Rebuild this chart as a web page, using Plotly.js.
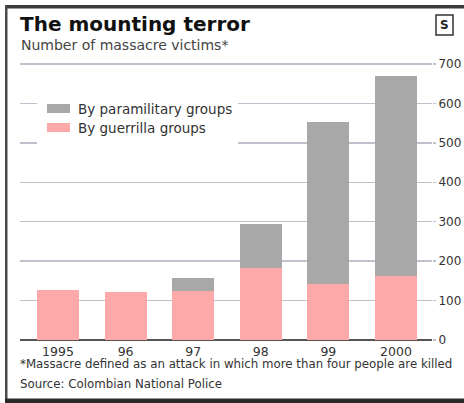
<!DOCTYPE html>
<html>
<head>
<meta charset="utf-8">
<script src="https://cdn.plot.ly/plotly-3.0.1.min.js"></script>
<style>
  html, body { margin: 0; padding: 0; background: #fff; }
  #chart { width: 464px; height: 403px; }
</style>
</head>
<body>
<div id="chart"></div>
<script>
// ---- Data ----
const years = ["1995", "96", "97", "98", "99", "2000"];
const guerrilla = [127, 121, 124, 182, 142, 162];
const paramilitary = [0, 0, 32, 112, 411, 508];
const yTicks = [0, 100, 200, 300, 400, 500, 600, 700];
const seriesNames = ["By paramilitary groups", "By guerrilla groups"];

// ---- Layout helpers (pixel -> paper) ----
const W = 464, H = 403;
const L = 20, R = 432, T = 59, B = 340;
const px = x => (x - L) / (R - L);
const py = y => (B - y) / (B - T);

const FONT = "DejaVu Sans, Verdana, sans-serif";
const PINK = "#fda9aa";
const GREY = "#a8a8a8";

const traces = [
  { type: "bar", x: years, y: guerrilla, name: seriesNames[1],
    marker: { color: PINK, line: { width: 0 } }, hoverinfo: "skip" },
  { type: "bar", x: years, y: paramilitary, name: seriesNames[0],
    marker: { color: GREY, line: { width: 0 } }, hoverinfo: "skip" }
];

const shapes = [
  // frame
  { type: "rect", xref: "paper", yref: "paper", x0: px(5), x1: px(470), y0: py(5), y1: py(8.5),
    fillcolor: "#3a3a3a", line: { width: 0 } },
  { type: "rect", xref: "paper", yref: "paper", x0: px(5), x1: px(7.5), y0: py(5), y1: py(403),
    fillcolor: "#4a4a4a", line: { width: 0 } },
  { type: "rect", xref: "paper", yref: "paper", x0: px(5), x1: px(470), y0: py(398.5), y1: py(403),
    fillcolor: "#2a2a2a", line: { width: 0 } },
  // S box
  { type: "rect", xref: "paper", yref: "paper", x0: px(436), x1: px(453), y0: py(15), y1: py(35),
    fillcolor: "#fff", line: { color: "#333", width: 1.5 } },
  // legend background & swatches
  { type: "rect", xref: "paper", yref: "paper", x0: px(37), x1: px(238), y0: py(94), y1: py(146),
    fillcolor: "#fff", line: { width: 0 }, layer: "above" },
  { type: "rect", xref: "paper", yref: "paper", x0: px(47), x1: px(70), y0: py(104), y1: py(113),
    fillcolor: GREY, line: { width: 0 }, layer: "above" },
  { type: "rect", xref: "paper", yref: "paper", x0: px(47), x1: px(70), y0: py(123), y1: py(132),
    fillcolor: PINK, line: { width: 0 }, layer: "above" }
];

const ann = (text, x, y, size, opts = {}) => Object.assign({
  text, xref: "paper", yref: "paper", x: px(x), y: py(y), xanchor: "left", yanchor: "middle",
  showarrow: false, font: { family: FONT, size, color: "#333" }
}, opts);

const annotations = [
  ann("<b>The mounting terror</b>", 18, 24, 20, { font: { family: FONT, size: 20, color: "#111" } }),
  ann("Number of massacre victims*", 19, 45, 14, { font: { family: FONT, size: 14, color: "#444" } }),
  ann(seriesNames[0], 76, 108.5, 13.5),
  ann(seriesNames[1], 76, 128, 13.5),
  ann("*Massacre defined as an attack in which more than four people are killed", 18, 364, 11.8),
  ann("Source: Colombian National Police", 18, 384, 11.8),
  ann("<b>S</b>", 444.5, 25, 12, { xanchor: "center", font: { family: FONT, size: 12, color: "#222" } })
];

const layout = {
  width: W, height: H,
  margin: { l: L, r: W - R, t: T, b: H - B, pad: 0 },
  paper_bgcolor: "#fff", plot_bgcolor: "#fff",
  barmode: "stack", bargap: 0.38,
  showlegend: false,
  xaxis: {
    type: "category", range: [-0.562, 5.533], showgrid: false, zeroline: false,
    showline: false, ticks: "", tickfont: { family: FONT, size: 12.5, color: "#333" },
    ticklabelstandoff: 2, fixedrange: true
  },
  yaxis: {
    side: "right", range: [0, 712.6], tickvals: yTicks, ticktext: yTicks.map(String),
    showgrid: true, gridcolor: "#bfc1cc", gridwidth: 1.5,
    zeroline: true, zerolinecolor: "#555", zerolinewidth: 1.5,
    ticks: "outside", ticklen: 3, tickcolor: "#bfc1cc", tickwidth: 1.5,
    tickfont: { family: FONT, size: 12, color: "#333" }, ticklabelstandoff: 0,
    showline: false, fixedrange: true
  },
  shapes, annotations
};

Plotly.newPlot("chart", traces, layout, { displayModeBar: false, staticPlot: true });
</script>
</body>
</html>
